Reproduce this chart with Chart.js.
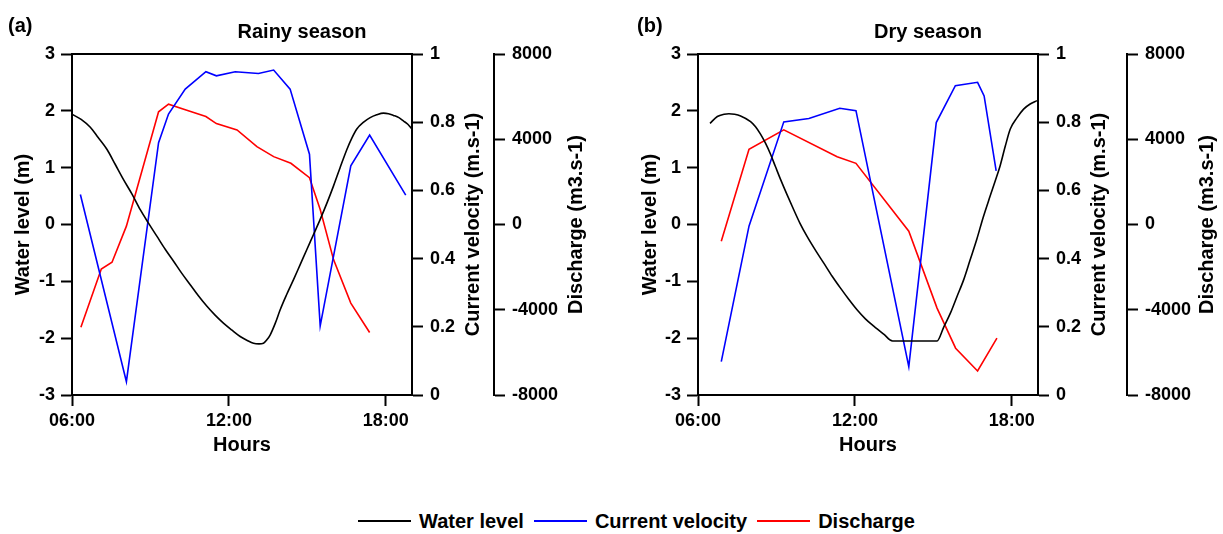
<!DOCTYPE html>
<html>
<head>
<meta charset="utf-8">
<script src="https://cdn.jsdelivr.net/npm/chart.js@4.4.1/dist/chart.umd.min.js"></script>
<style>
    body { margin: 0; background: #fff; width: 1223px; height: 534px; position: relative; overflow: hidden; }
    .panel { position: absolute; top: 0; height: 470px; }
    #panelA { left: 0; width: 600px; }
    #panelB { left: 620px; width: 603px; }
    #legend {
        position: absolute; left: 358px; top: 509px; height: 24px;
        display: flex; align-items: center;
        font: bold 20px "Liberation Sans", Arial, sans-serif; color: #000;
    }
    #legend .item { display: flex; align-items: center; margin-right: 10px; }
    #legend .swatch { width: 53px; height: 2px; margin-right: 8px; }
</style>
</head>
<body>
<div class="panel" id="panelA"><canvas id="chartA"></canvas></div>
<div class="panel" id="panelB"><canvas id="chartB"></canvas></div>
<div id="legend"></div>

<script>
// Tick labels / axis ticks
const hourTicks = [6, 12, 18];
const hourLabels = ['06:00', '12:00', '18:00'];
const waterTicks = [-3, -2, -1, 0, 1, 2, 3];
const velocityTicks = [0, 0.2, 0.4, 0.6, 0.8, 1];
const dischargeTicks = [-8000, -4000, 0, 4000, 8000];

const seriesNames = ['Water level', 'Current velocity', 'Discharge'];
const seriesColors = ['#000000', '#0000ff', '#ff0000'];

// (a) Rainy season
const waterHoursA = [6.0, 6.35, 6.7, 7.0, 7.34, 7.65, 7.97, 8.3, 8.61, 8.93, 9.25, 9.57, 9.89, 10.2, 10.52, 10.84,
    11.16, 11.48, 11.8, 12.12, 12.43, 12.7, 12.94, 13.15, 13.32, 13.45, 13.58, 13.77, 13.96, 14.2, 14.47, 14.72,
    14.98, 15.23, 15.49, 15.75, 16.0, 16.25, 16.51, 16.7, 16.89, 17.15, 17.4, 17.65, 17.91, 18.1, 18.29, 18.5,
    18.68, 18.85, 19.0];
const waterLevelA = [1.94, 1.85, 1.71, 1.53, 1.32, 1.06, 0.79, 0.53, 0.26, 0.02, -0.21, -0.44, -0.65, -0.86, -1.06, -1.26,
    -1.44, -1.6, -1.74, -1.86, -1.97, -2.04, -2.09, -2.1, -2.09, -2.03, -1.94, -1.74, -1.5, -1.24, -0.97, -0.71,
    -0.44, -0.18, 0.09, 0.38, 0.68, 1.0, 1.32, 1.52, 1.68, 1.8, 1.88, 1.93, 1.96, 1.95, 1.92, 1.88,
    1.82, 1.76, 1.68];
const velocityHoursA = [6.32, 8.08, 9.31, 9.69, 10.33, 11.12, 11.52, 12.24, 13.13, 13.71, 14.34, 15.08, 15.49, 16.66, 17.38, 18.76];
const velocityA = [0.588, 0.039, 0.74, 0.824, 0.897, 0.948, 0.936, 0.948, 0.943, 0.953, 0.897, 0.706, 0.203, 0.672, 0.762, 0.586];
const dischargeHoursA = [6.34, 7.12, 7.53, 8.08, 9.31, 9.69, 10.39, 11.12, 11.52, 12.31, 13.07, 13.71, 14.37, 15.08, 15.49, 16.0, 16.66, 17.38];
const dischargeA = [-4816, -2086, -1773, -78, 5286, 5647, 5365, 5067, 4737, 4439, 3655, 3184, 2871, 2196, 706, -1647, -3686, -5067];

// (b) Dry season
const waterHoursB = [6.46, 6.74, 7.0, 7.18, 7.4, 7.63, 8.01, 8.2, 8.39, 8.58, 8.77, 8.96, 9.16, 9.4, 9.66, 9.9,
    10.17, 10.5, 10.81, 11.13, 11.45, 11.77, 12.08, 12.4, 12.72, 13.1, 13.44, 15.14, 15.4, 15.65, 15.9, 16.16,
    16.4, 16.66, 16.9, 17.17, 17.36, 17.55, 17.75, 17.94, 18.2, 18.45, 18.7, 18.96];
const waterLevelB = [1.78, 1.9, 1.94, 1.95, 1.94, 1.91, 1.81, 1.72, 1.59, 1.43, 1.24, 1.02, 0.79, 0.53, 0.26, 0.02,
    -0.21, -0.46, -0.68, -0.91, -1.12, -1.32, -1.5, -1.66, -1.79, -1.93, -2.05, -2.05, -1.8, -1.56, -1.27, -0.97,
    -0.63, -0.26, 0.12, 0.5, 0.76, 1.03, 1.38, 1.68, 1.88, 2.03, 2.12, 2.18];
const velocityHoursB = [6.89, 7.95, 9.28, 10.24, 11.42, 12.04, 14.06, 15.11, 15.84, 16.69, 16.94, 17.4];
const velocityB = [0.098, 0.495, 0.801, 0.811, 0.841, 0.834, 0.083, 0.799, 0.907, 0.917, 0.877, 0.657];
const dischargeHoursB = [6.89, 7.95, 9.28, 11.32, 12.04, 14.06, 15.14, 15.85, 16.69, 17.43];
const dischargeB = [-784, 3530, 4439, 3184, 2871, -313, -3922, -5804, -6871, -5333];

const FONT = '"Liberation Sans", Arial, sans-serif';
Chart.defaults.font.family = FONT;
Chart.defaults.font.size = 18;
Chart.defaults.font.weight = 'bold';
Chart.defaults.color = '#000';

function toPoints(xs, ys) {
    return xs.map((x, i) => ({ x: x, y: ys[i] }));
}

function fixedTicks(values) {
    return scale => { scale.ticks = values.map(v => ({ value: v })); };
}

// Draws panel tag, season title and the rotated titles of the right-hand axes
const panelText = {
    id: 'panelText',
    afterDraw(chart, args, opts) {
        const { ctx, chartArea, scales } = chart;
        ctx.save();
        ctx.fillStyle = '#000';
        ctx.font = 'bold 20px ' + FONT;
        ctx.textBaseline = 'middle';
        ctx.textAlign = 'left';
        ctx.fillText(opts.tag, opts.tagX, 26);
        ctx.textAlign = 'center';
        ctx.fillText(opts.title, chartArea.left + 230, 32);
        const midY = (chartArea.top + chartArea.bottom) / 2;
        [['yv', seriesNames[1] + ' (m.s-1)', opts.velTitleX], ['yd', seriesNames[2] + ' (m3.s-1)', opts.disTitleX]].forEach(([id, text, off]) => {
            ctx.save();
            ctx.translate(scales[id].left + off, midY);
            ctx.rotate(-Math.PI / 2);
            ctx.fillText(text, 0, 0);
            ctx.restore();
        });
        ctx.restore();
    }
};

const axisLine = { display: true, color: '#000', width: 2 };
const tickMarks = { display: true, drawOnChartArea: false, drawTicks: true, tickLength: 11, tickWidth: 2, tickColor: '#000' };

function makeChart(canvasId, p) {
    return new Chart(document.getElementById(canvasId), {
        type: 'line',
        data: {
            datasets: [
                { label: seriesNames[0], data: toPoints(p.waterHours, p.water), yAxisID: 'y', borderColor: seriesColors[0], cubicInterpolationMode: 'monotone' },
                { label: seriesNames[1], data: toPoints(p.velHours, p.vel), yAxisID: 'yv', borderColor: seriesColors[1] },
                { label: seriesNames[2], data: toPoints(p.disHours, p.dis), yAxisID: 'yd', borderColor: seriesColors[2] }
            ]
        },
        options: {
            responsive: true,
            maintainAspectRatio: false,
            animation: false,
            elements: { point: { radius: 0 }, line: { borderWidth: 1.6, tension: 0, fill: false } },
            layout: { padding: { top: 54, left: p.padLeft, right: 0, bottom: 13 } },
            plugins: {
                legend: { display: false },
                tooltip: { enabled: false },
                panelText: { tag: p.tag, tagX: p.tagX, title: p.title, velTitleX: p.velTitleX, disTitleX: p.disTitleX }
            },
            scales: {
                x: {
                    type: 'linear', position: 'bottom', min: 6, max: 19,
                    grid: tickMarks, border: axisLine,
                    afterBuildTicks: fixedTicks(hourTicks),
                    afterFit: s => { s.height = 62; },
                    ticks: { padding: 4, maxRotation: 0, callback: v => hourLabels[hourTicks.indexOf(v)] },
                    title: { display: true, text: 'Hours', font: { size: 20, weight: 'bold' }, padding: 0 }
                },
                x2: {
                    type: 'linear', position: 'top', min: 6, max: 19,
                    grid: { display: false }, ticks: { display: false }, border: axisLine,
                    afterFit: s => { s.height = 0; }
                },
                y: {
                    position: 'left', min: -3, max: 3,
                    grid: tickMarks, border: axisLine,
                    afterBuildTicks: fixedTicks(waterTicks),
                    afterFit: s => { s.width = p.leftWidth; },
                    ticks: { padding: 6, callback: v => String(v) },
                    title: { display: true, text: seriesNames[0] + ' (m)', font: { size: 20, weight: 'bold' }, padding: 0 }
                },
                yv: {
                    position: 'right', weight: 0, min: 0, max: 1,
                    grid: tickMarks, border: axisLine,
                    afterBuildTicks: fixedTicks(velocityTicks),
                    afterFit: s => { s.width = p.velWidth; },
                    ticks: { padding: 7, callback: v => String(v) }
                },
                yd: {
                    position: 'right', weight: 1, min: -8000, max: 8000,
                    grid: tickMarks, border: axisLine,
                    afterBuildTicks: fixedTicks(dischargeTicks),
                    afterFit: s => { s.width = p.disWidth; },
                    ticks: { padding: 7, callback: v => String(v) }
                }
            }
        },
        plugins: [panelText]
    });
}

makeChart('chartA', {
    tag: '(a)', tagX: 8, title: 'Rainy season',
    padLeft: 11, leftWidth: 61, velWidth: 82, disWidth: 106,
    velTitleX: 61, disTitleX: 82,
    waterHours: waterHoursA, water: waterLevelA,
    velHours: velocityHoursA, vel: velocityA,
    disHours: dischargeHoursA, dis: dischargeA
});

makeChart('chartB', {
    tag: '(b)', tagX: 17, title: 'Dry season',
    padLeft: 18, leftWidth: 60, velWidth: 89, disWidth: 96,
    velTitleX: 61, disTitleX: 80,
    waterHours: waterHoursB, water: waterLevelB,
    velHours: velocityHoursB, vel: velocityB,
    disHours: dischargeHoursB, dis: dischargeB
});

// Legend below both panels
const legend = document.getElementById('legend');
seriesNames.forEach((name, i) => {
    const item = document.createElement('div');
    item.className = 'item';
    const swatch = document.createElement('span');
    swatch.className = 'swatch';
    swatch.style.background = seriesColors[i];
    const label = document.createElement('span');
    label.textContent = name;
    item.appendChild(swatch);
    item.appendChild(label);
    legend.appendChild(item);
});
</script>
</body>
</html>
